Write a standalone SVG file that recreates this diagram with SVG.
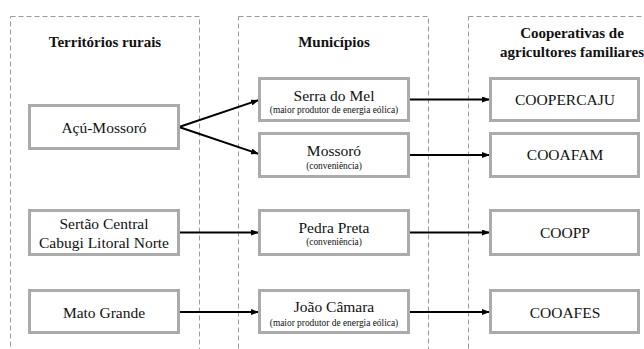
<svg xmlns="http://www.w3.org/2000/svg" width="644" height="349" viewBox="0 0 644 349">
<style>
.col{fill:none;stroke:#9a9a9a;stroke-width:1;stroke-dasharray:5,3}
.box{fill:#fff;stroke:#ababab;stroke-width:3}
text{font-family:'Liberation Serif','Times New Roman',Tinos,'DejaVu Serif',serif;fill:#111;text-anchor:middle}
.hd{font-weight:bold;font-size:15px}
.t{font-size:15.5px}
.s{font-size:9.4px}
.c{fill:none;stroke:#000;stroke-width:2}
</style>
<defs>
<marker id="ah" viewBox="0 0 8 6" refX="8" refY="3" markerWidth="8" markerHeight="6" markerUnits="userSpaceOnUse" orient="auto">
<path d="M0,0 L8,3 L0,6 Z" fill="#000"/>
</marker>
</defs>
<g id="columns">
<rect class="col" x="10.5" y="16.5" width="189" height="340"/>
<rect class="col" x="238.5" y="16.5" width="190" height="340"/>
<rect class="col" x="468.5" y="16.5" width="190" height="340"/>
<text class="hd" x="105" y="47">Territórios rurais</text>
<text class="hd" x="334" y="47">Municípios</text>
<text class="hd" x="572" y="38">Cooperativas de</text>
<text class="hd" x="572" y="57">agricultores familiares</text>
</g>
<g id="connectors">
<path class="c" d="M179,127 L259,100" marker-end="url(#ah)"/>
<path class="c" d="M179,127 L259,154" marker-end="url(#ah)"/>
<path class="c" d="M179,232.5 L259,232.5" marker-end="url(#ah)"/>
<path class="c" d="M179,312 L259,312" marker-end="url(#ah)"/>
<path class="c" d="M409,99.5 L490,99.5" marker-end="url(#ah)"/>
<path class="c" d="M409,155 L490,155" marker-end="url(#ah)"/>
<path class="c" d="M409,232.5 L490,232.5" marker-end="url(#ah)"/>
<path class="c" d="M409,312 L490,312" marker-end="url(#ah)"/>
</g>
<g id="acu-mossoro">
<rect class="box" x="29.5" y="105.5" width="149" height="43"/>
<text class="t" x="104" y="133">Açú-Mossoró</text>
</g>
<g id="sertao-central">
<rect class="box" x="29.5" y="210.5" width="149" height="44"/>
<text class="t" x="104" y="229">Sertão Central</text>
<text class="t" x="104" y="248">Cabugi Litoral Norte</text>
</g>
<g id="mato-grande">
<rect class="box" x="29.5" y="290.5" width="149" height="42"/>
<text class="t" x="104" y="318">Mato Grande</text>
</g>
<g id="serra-do-mel">
<rect class="box" x="259.5" y="78.5" width="149" height="42"/>
<text class="t" x="334" y="101">Serra do Mel</text>
<text class="s" x="334" y="113">(maior produtor de energia eólica)</text>
</g>
<g id="mossoro">
<rect class="box" x="259.5" y="133.5" width="149" height="43"/>
<text class="t" x="334" y="156">Mossoró</text>
<text class="s" x="334" y="169">(conveniência)</text>
</g>
<g id="pedra-preta">
<rect class="box" x="259.5" y="210.5" width="149" height="44"/>
<text class="t" x="334" y="233">Pedra Preta</text>
<text class="s" x="334" y="245">(conveniência)</text>
</g>
<g id="joao-camara">
<rect class="box" x="259.5" y="290.5" width="149" height="42"/>
<text class="t" x="334" y="312">João Câmara</text>
<text class="s" x="334" y="326">(maior produtor de energia eólica)</text>
</g>
<g id="coopercaju">
<rect class="box" x="490.5" y="78.5" width="148" height="42"/>
<text class="t" x="565" y="105">COOPERCAJU</text>
</g>
<g id="cooafam">
<rect class="box" x="490.5" y="133.5" width="148" height="43"/>
<text class="t" x="565" y="160">COOAFAM</text>
</g>
<g id="coopp">
<rect class="box" x="490.5" y="210.5" width="148" height="44"/>
<text class="t" x="565" y="238">COOPP</text>
</g>
<g id="cooafes">
<rect class="box" x="490.5" y="290.5" width="148" height="42"/>
<text class="t" x="565" y="318">COOAFES</text>
</g>
</svg>
